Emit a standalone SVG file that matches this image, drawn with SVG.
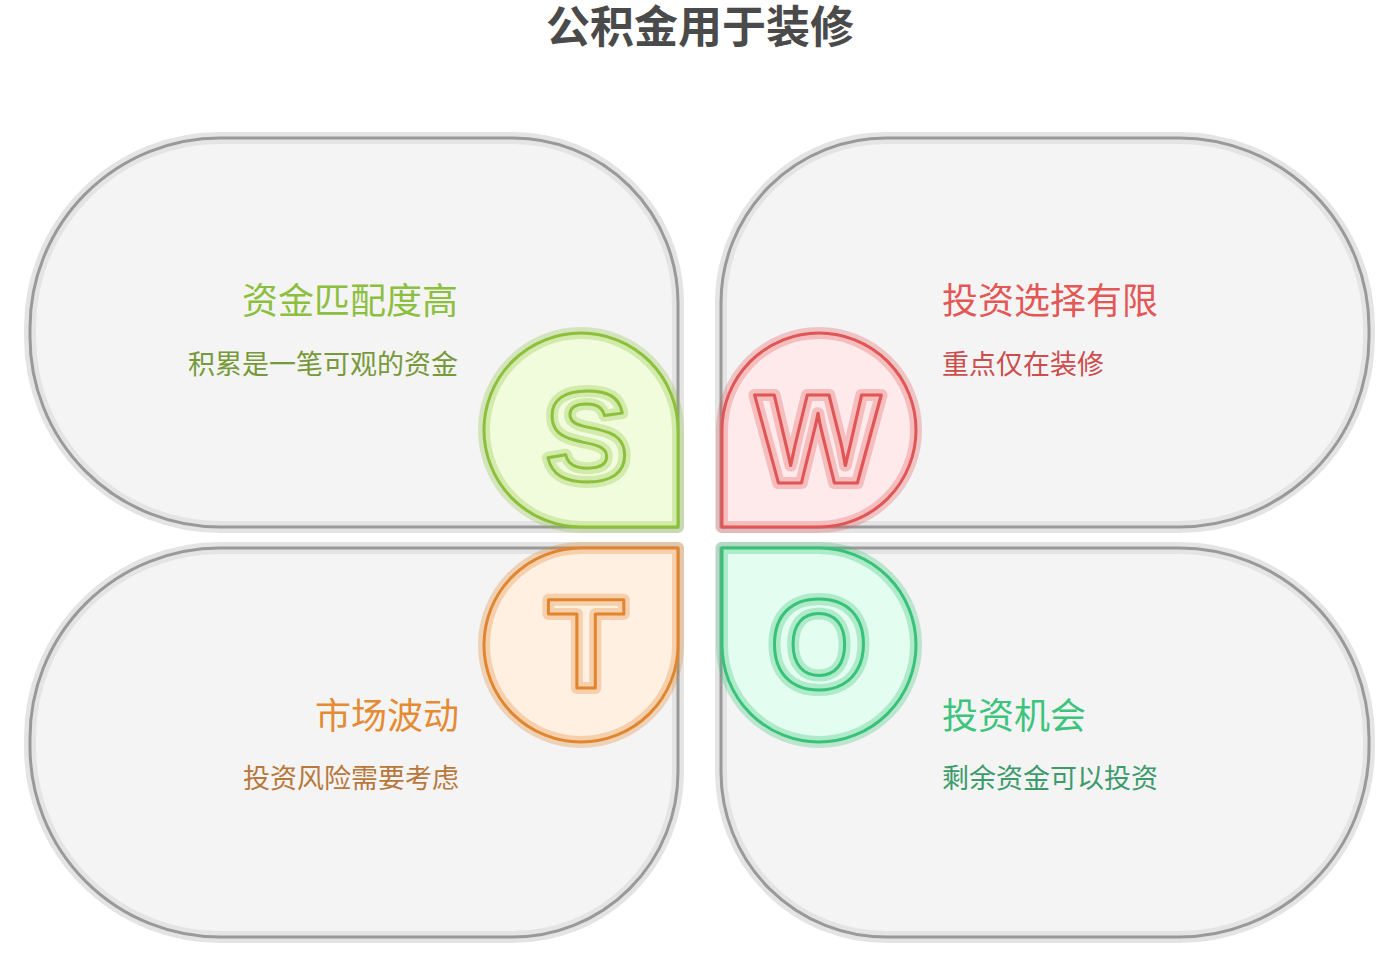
<svg xmlns="http://www.w3.org/2000/svg" width="1396" height="961" viewBox="0 0 1396 961">
<style>
.quad-halo{fill:#f4f4f4;stroke:#e4e4e4;stroke-width:12;stroke-linejoin:round}
.quad-line{fill:none;stroke:#999999;stroke-width:3;stroke-linejoin:round}
.halo{stroke-width:12;stroke-opacity:0.3;stroke-linejoin:round}
.edge{fill:none;stroke-width:3;stroke-linejoin:round}
.letter{font-family:"Liberation Sans",Arial,sans-serif;font-weight:bold;font-size:128px;text-anchor:middle}
.head{font-family:"Noto Sans CJK SC","Noto Sans",sans-serif;font-size:36px}
.desc{font-family:"Noto Sans CJK SC","Noto Sans",sans-serif;font-size:27px}
.end{text-anchor:end}
.title{font-family:"Noto Sans CJK SC","Noto Sans",sans-serif;font-size:44px;font-weight:bold;fill:#4a4a4a;text-anchor:middle}
.g{fill:#f1fcdc;stroke:#8cbf3a}
.r{fill:#feeaea;stroke:#e05555}
.o{fill:#fff0e2;stroke:#e0862f}
.t{fill:#e3fdf0;stroke:#38c278}
</style>
<text class="title" x="700" y="43">公积金用于装修</text>
<g id="connectors"></g>
<g id="strengths">
<path class="quad-halo" d="M 220,138 H 513 A 165 165 0 0 1 678,303 V 527 H 220 A 190 190 0 0 1 30,337 V 328 A 190 190 0 0 1 220,138 Z"/>
<path class="quad-line" d="M 220,138 H 513 A 165 165 0 0 1 678,303 V 527 H 220 A 190 190 0 0 1 30,337 V 328 A 190 190 0 0 1 220,138 Z"/>
<text class="head end" x="458" y="314" fill="#8dbf3e">资金匹配度高</text>
<text class="desc end" x="458" y="374" fill="#77993a">积累是一笔可观的资金</text>
<path class="g halo" d="M 581,333 A 97 97 0 0 0 484,430 A 97 97 0 0 0 581,527 H 678 V 430 A 97 97 0 0 0 581,333 Z"/>
<path class="g edge" style="fill:none" d="M 581,333 A 97 97 0 0 0 484,430 A 97 97 0 0 0 581,527 H 678 V 430 A 97 97 0 0 0 581,333 Z"/>
<text class="letter g halo" x="587" y="481">S</text>
<text class="letter g edge" style="fill:none" x="587" y="481">S</text>
</g>
<g id="weaknesses">
<path class="quad-halo" d="M 1179,138 H 886 A 165 165 0 0 0 721,303 V 527 H 1179 A 190 190 0 0 0 1369,337 V 328 A 190 190 0 0 0 1179,138 Z"/>
<path class="quad-line" d="M 1179,138 H 886 A 165 165 0 0 0 721,303 V 527 H 1179 A 190 190 0 0 0 1369,337 V 328 A 190 190 0 0 0 1179,138 Z"/>
<text class="head" x="942" y="314" fill="#e35757">投资选择有限</text>
<text class="desc" x="942" y="374" fill="#cc4d4d">重点仅在装修</text>
<path class="r halo" d="M 819,333 A 97 97 0 0 1 916,430 A 97 97 0 0 1 819,527 H 722 V 430 A 97 97 0 0 1 819,333 Z"/>
<path class="r edge" style="fill:none" d="M 819,333 A 97 97 0 0 1 916,430 A 97 97 0 0 1 819,527 H 722 V 430 A 97 97 0 0 1 819,333 Z"/>
<g transform="translate(818,0) scale(1.05,1) translate(-818,0)">
<text class="letter r halo" x="818" y="483">W</text>
<text class="letter r edge" style="fill:none" x="818" y="483">W</text>
</g>
</g>
<g id="threats">
<path class="quad-halo" d="M 220,548 H 678 V 772 A 165 165 0 0 1 513,937 H 220 A 190 190 0 0 1 30,747 V 738 A 190 190 0 0 1 220,548 Z"/>
<path class="quad-line" d="M 220,548 H 678 V 772 A 165 165 0 0 1 513,937 H 220 A 190 190 0 0 1 30,747 V 738 A 190 190 0 0 1 220,548 Z"/>
<text class="head end" x="459" y="729" fill="#e58b34">市场波动</text>
<text class="desc end" x="459" y="788" fill="#b8783c">投资风险需要考虑</text>
<path class="o halo" d="M 581,742 A 97 97 0 0 1 484,645 A 97 97 0 0 1 581,548 H 678 V 645 A 97 97 0 0 1 581,742 Z"/>
<path class="o edge" style="fill:none" d="M 581,742 A 97 97 0 0 1 484,645 A 97 97 0 0 1 581,548 H 678 V 645 A 97 97 0 0 1 581,742 Z"/>
<text class="letter o halo" x="586" y="688">T</text>
<text class="letter o edge" style="fill:none" x="586" y="688">T</text>
</g>
<g id="opportunities">
<path class="quad-halo" d="M 1179,548 H 721 V 772 A 165 165 0 0 0 886,937 H 1179 A 190 190 0 0 0 1369,747 V 738 A 190 190 0 0 0 1179,548 Z"/>
<path class="quad-line" d="M 1179,548 H 721 V 772 A 165 165 0 0 0 886,937 H 1179 A 190 190 0 0 0 1369,747 V 738 A 190 190 0 0 0 1179,548 Z"/>
<text class="head" x="942" y="729" fill="#3dc47c">投资机会</text>
<text class="desc" x="942" y="788" fill="#3d9b6b">剩余资金可以投资</text>
<path class="t halo" d="M 819,742 A 97 97 0 0 0 916,645 A 97 97 0 0 0 819,548 H 722 V 645 A 97 97 0 0 0 819,742 Z"/>
<path class="t edge" style="fill:none" d="M 819,742 A 97 97 0 0 0 916,645 A 97 97 0 0 0 819,548 H 722 V 645 A 97 97 0 0 0 819,742 Z"/>
<text class="letter t halo" x="819" y="689">O</text>
<text class="letter t edge" style="fill:none" x="819" y="689">O</text>
</g>
</svg>
